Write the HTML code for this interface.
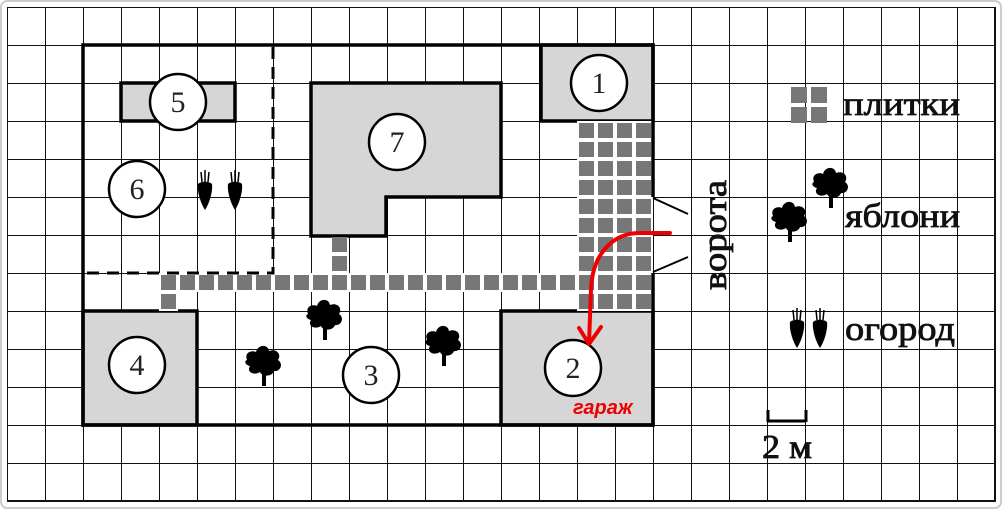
<!DOCTYPE html>
<html><head><meta charset="utf-8"><style>
html,body{margin:0;padding:0;background:#fff;}
svg{display:block;}
text{font-family:"Liberation Serif",serif;}
</style></head><body>
<svg width="1002" height="509" viewBox="0 0 1002 509" xmlns="http://www.w3.org/2000/svg">
<defs>
<pattern id="g" x="7" y="7" width="38" height="38" patternUnits="userSpaceOnUse">
<path d="M0 0H38M0 0V38" stroke="#111" stroke-width="2" fill="none"/>
</pattern>
<pattern id="t" x="577" y="121" width="19" height="19" patternUnits="userSpaceOnUse">
<rect x="2" y="2" width="15" height="15" fill="#777"/>
</pattern>
<g id="tree"><path d="M-2 0 L-2 18 L2 18 L2 0Z" fill="#000"/><path d="M-17 -8 C-20 -16 -12 -18 -8 -16 C-6 -24 4 -24 5 -17 C12 -20 18 -14 14 -8 C20 -4 16 4 10 3 C8 9 -2 9 -4 4 C-10 8 -18 4 -14 -2 C-19 -3 -20 -7 -17 -8Z" fill="#000"/></g>
<g id="car"><path d="M-7 -8 C-8 0 -4 12 0 18 C4 12 8 0 7 -8 C4 -11 -4 -11 -7 -8Z" fill="#000"/><path d="M-3 -10 L-4 -20 M0 -10 L0 -22 M3 -10 L4 -20" stroke="#000" stroke-width="1.5"/></g>
</defs>
<rect width="1002" height="509" fill="#fff"/>
<rect x="7" y="7" width="988" height="494" fill="url(#g)"/>
<path d="M7 501H995V7" stroke="#111" stroke-width="2" fill="none"/>
<rect x="1" y="1" width="1000" height="507" rx="6" fill="none" stroke="#ccc" stroke-width="2"/>
<g fill="#d6d6d6" stroke="#000" stroke-width="3.5">
<rect x="541" y="45" width="112" height="76"/>
<rect x="121" y="83" width="114" height="38"/>
<path d="M311 83H501V197H386V236H311Z"/>
<rect x="83" y="311" width="114" height="114"/>
<rect x="501" y="311" width="152" height="114"/>
</g>
<rect x="577" y="121" width="76" height="190" fill="#fff"/>
<rect x="577" y="121" width="76" height="190" fill="url(#t)"/>
<g fill="#777">
<rect x="332" y="237" width="15" height="15"/><rect x="332" y="256" width="15" height="15"/>
</g>
<rect x="159" y="273" width="418" height="19" fill="#fff"/>
<rect x="159" y="273" width="418" height="19" fill="url(#t)"/>
<rect x="159" y="292" width="19" height="19" fill="#fff"/>
<rect x="161" y="294" width="15" height="15" fill="#777"/>
<path d="M653 197V45H83V425H653V273" stroke="#000" stroke-width="3.5" fill="none"/>
<path d="M653 198L688 214M653 272L688 257" stroke="#000" stroke-width="2"/>
<path d="M273 47V273H83" stroke="#000" stroke-width="3" stroke-dasharray="12 8" fill="none"/>
<g fill="#fff" stroke="#000" stroke-width="2.5">
<circle cx="599" cy="83" r="28"/><circle cx="178" cy="102" r="28"/><circle cx="397" cy="142" r="28"/>
<circle cx="137" cy="189" r="28"/><circle cx="371" cy="375" r="28"/><circle cx="137" cy="365" r="28"/><circle cx="573" cy="368" r="28"/>
</g>
<g font-size="30" text-anchor="middle" fill="#222">
<text x="599" y="93">1</text><text x="178" y="112">5</text><text x="397" y="152">7</text>
<text x="137" y="199">6</text><text x="371" y="385">3</text><text x="137" y="375">4</text><text x="573" y="378">2</text>
</g>
<use href="#tree" x="325" y="322"/><use href="#tree" x="264" y="368"/><use href="#tree" x="444" y="348"/>
<use href="#tree" x="790" y="224"/><use href="#tree" x="831" y="190"/>
<use href="#car" x="205" y="192"/><use href="#car" x="235" y="192"/>
<use href="#car" x="797" y="330"/><use href="#car" x="820" y="330"/>
<g fill="#777"><rect x="791" y="87" width="16" height="16"/><rect x="811" y="87" width="16" height="16"/><rect x="791" y="107" width="16" height="16"/><rect x="811" y="107" width="16" height="16"/></g>
<g font-size="34" fill="#111" stroke="#111" stroke-width="0.8">
<text x="843" y="115" textLength="117" lengthAdjust="spacingAndGlyphs">плитки</text>
<text x="845" y="227" textLength="115" lengthAdjust="spacingAndGlyphs">яблони</text>
<text x="845" y="340" textLength="110" lengthAdjust="spacingAndGlyphs">огород</text>
<text x="762" y="458" textLength="50" lengthAdjust="spacingAndGlyphs">2 м</text>
<text transform="translate(726 235) rotate(-90)" text-anchor="middle" textLength="110" lengthAdjust="spacingAndGlyphs">ворота</text>
</g>
<path d="M768 410V422M806 410V422M768 421H806" stroke="#000" stroke-width="3" fill="none"/>
<path d="M670 233H640C612 233 592 255 591 290L589 343" stroke="#e00" stroke-width="4" fill="none" stroke-linecap="round"/>
<path d="M579 328L589 344L601 327" stroke="#e00" stroke-width="4" fill="none" stroke-linecap="round" stroke-linejoin="round"/>
<text x="573" y="414" font-style="italic" font-weight="bold" font-size="20" fill="#e00" style="font-family:'Liberation Sans',sans-serif">гараж</text>
</svg>
</body></html>
